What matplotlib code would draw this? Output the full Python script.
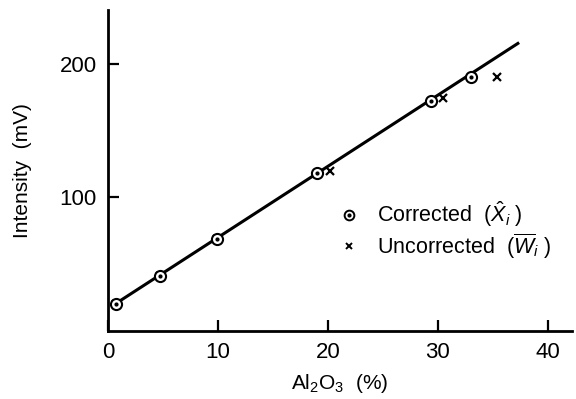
import matplotlib
matplotlib.use("Agg")
import matplotlib.pyplot as plt
from matplotlib.legend_handler import HandlerTuple

plt.rcParams['font.family'] = ['Liberation Sans', 'DejaVu Sans']
plt.rcParams['mathtext.fontset'] = 'custom'
plt.rcParams['mathtext.it'] = 'Liberation Sans:italic'
plt.rcParams['mathtext.rm'] = 'Liberation Sans'

corr_x = [0.7, 4.7, 9.9, 19.0, 29.4, 33.0]
corr_y = [20, 41, 69, 118, 172, 190]
unc_x = [0.7, 4.7, 9.9, 20.2, 30.5, 35.4]
unc_y = [20, 41, 69, 120, 174, 190]
fit_x = [0.4, 37.3]
fit_y = [19, 215]
xticks = [0, 10, 20, 30, 40]
yticks = [100, 200]

fig = plt.figure(figsize=(5.76, 3.99), dpi=100)
ax = fig.add_axes([0.1875, 0.170, 0.805, 0.805])

ax.plot(fit_x, fit_y, color='black', lw=2.2, zorder=2)
ax.plot(unc_x, unc_y, 'x', color='black', ms=6, mew=1.6, zorder=3)
ax.plot(corr_x, corr_y, 'o', mfc='white', mec='black', ms=8, mew=1.5, zorder=4)
ax.plot(corr_x, corr_y, 'o', color='black', ms=2, zorder=5)

ax.set_xlim(0, 42.2)
ax.set_ylim(0, 240)
ax.set_xticks(xticks)
ax.set_yticks(yticks)
for s in ['top', 'right']:
    ax.spines[s].set_visible(False)
for s in ['left', 'bottom']:
    ax.spines[s].set_linewidth(2.0)
ax.tick_params(direction='in', length=8, width=1.6, labelsize=16, pad=8)

ax.set_xlabel('Al$_2$O$_3$  (%)', fontsize=15, labelpad=6)
ax.set_ylabel('Intensity  (mV)', fontsize=15, labelpad=20)

hx = ax.plot([], [], 'x', color='black', ms=5, mew=1.4)[0]
hc1 = ax.plot([], [], 'o', mfc='white', mec='black', ms=7, mew=1.4)[0]
hc2 = ax.plot([], [], 'o', color='black', ms=2)[0]
ax.legend([(hc1, hc2), hx],
          [r'Corrected  ($\hat{X}_i$ )', r'Uncorrected  ($\overline{W}_i$ )'],
          handler_map={tuple: HandlerTuple(ndivide=1)},
          loc='upper left', bbox_to_anchor=(0.455, 0.47), frameon=False,
          fontsize=15.5, handlelength=1.0, handletextpad=0.8, labelspacing=0.1)

fig.savefig('out.png', dpi=100)
